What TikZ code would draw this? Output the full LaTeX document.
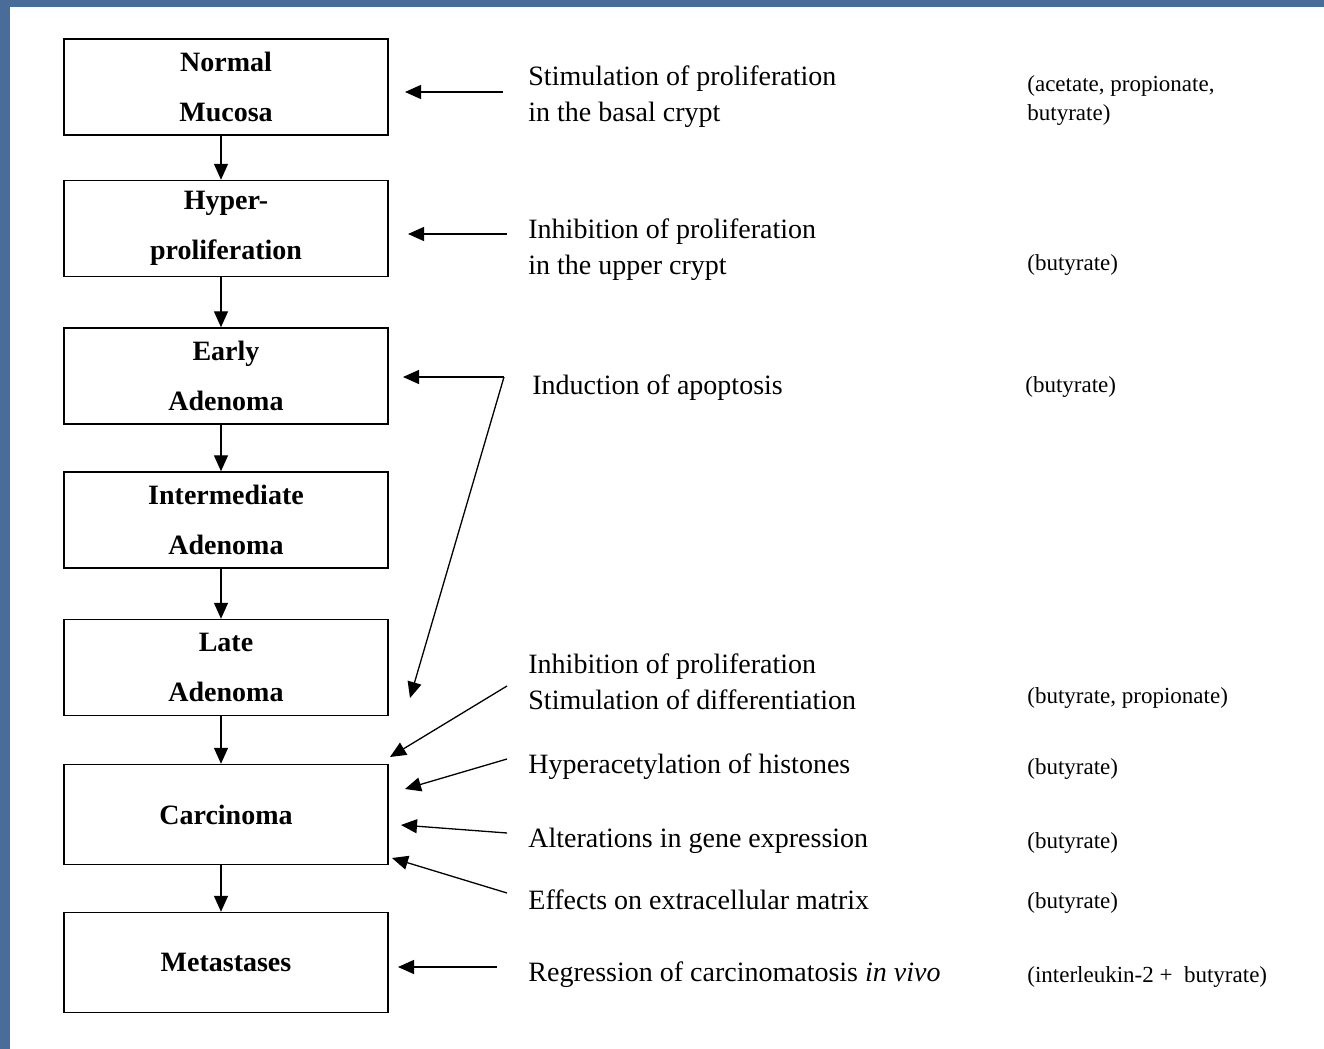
\documentclass[tikz,border=0pt]{standalone}
\usepackage{fontspec}
\setmainfont{Liberation Serif}
\usetikzlibrary{arrows.meta}
\definecolor{slideblue}{RGB}{74,108,152}

\begin{document}
\begin{tikzpicture}[x=0.5pt, y=-0.5pt,
  stage/.style={draw, line width=0.7pt, minimum width=162pt,
    minimum height=48pt, align=center,
    font=\bfseries\fontsize{14}{25}\selectfont},
  effect/.style={anchor=west, align=left,
    font=\fontsize{14}{18}\selectfont, inner sep=0pt},
  agent/.style={anchor=west, align=left,
    font=\fontsize{11.5}{14.5}\selectfont, inner sep=0pt},
  link/.style={-{Triangle[length=8pt,width=7pt]}, line width=0.65pt}]

  \useasboundingbox (0,0) rectangle (1324,1049);

  % Slide background
  \fill[slideblue] (0,0) rectangle (1324,1049);
  \fill[white] (10,7) rectangle (1324,1049);

  % Stages of carcinogenesis
  \node[stage] (normal) at (226,87) {Normal\\Mucosa};
  \node[stage] (hyper) at (226,228.5) {Hyper-\\proliferation};
  \node[stage] (early) at (226,376) {Early\\Adenoma};
  \node[stage] (inter) at (226,520) {Intermediate\\Adenoma};
  \node[stage] (late) at (226,667.5) {Late\\Adenoma};
  \node[stage, minimum height=50pt] (carc) at (226,814.5) {Carcinoma};
  \node[stage, minimum height=50pt] (meta) at (226,962.5) {Metastases};

  % Progression
  \foreach \a/\b in {normal/hyper, hyper/early, early/inter,
                     inter/late, late/carc, carc/meta}
    \draw[link] ([xshift=-2.5pt]\a.south) -- ([xshift=-2.5pt]\b.north);

  % Effects of short chain fatty acids
  \node[effect] (basal) at (528,97)
    {Stimulation of proliferation\\in the basal crypt};
  \node[effect] (upper) at (528,250)
    {Inhibition of proliferation\\in the upper crypt};
  \node[effect] (apop) at (532,388) {Induction of apoptosis};
  \node[effect] (diff) at (528,682)
    {Inhibition of proliferation\\Stimulation of differentiation};
  \node[effect] (histo) at (528,767) {Hyperacetylation of histones};
  \node[effect] (gene) at (528,841) {Alterations in gene expression};
  \node[effect] (matrix) at (528,900) {Effects on extracellular matrix};
  \node[effect] (regr) at (528,975)
    {Regression of carcinomatosis \textit{in vivo}};

  % Acids involved
  \node[agent] (ag1) at (1027,101) {(acetate, propionate,\\butyrate)};
  \node[agent] (ag2) at (1027,265) {(butyrate)};
  \node[agent] (ag3) at (1025,387) {(butyrate)};
  \node[agent] (ag4) at (1027,698) {(butyrate, propionate)};
  \node[agent] (ag5) at (1027,769) {(butyrate)};
  \node[agent] (ag6) at (1027,843) {(butyrate)};
  \node[agent] (ag7) at (1027,903) {(butyrate)};
  \node[agent] (ag8) at (1027,977) {(interleukin-2 +\ \ butyrate)};

  % Arrow ends
  \coordinate (s1) at (503,92);   \coordinate (e1) at (405,92);
  \coordinate (s2) at (507,234);  \coordinate (e2) at (408,234);
  \coordinate (s3) at (504,377);  \coordinate (e3) at (403,377);
  \coordinate (e3b) at (410,698);
  \coordinate (s4) at (507,686);  \coordinate (e4) at (390,757);
  \coordinate (s5) at (507,759);  \coordinate (e5) at (405,789);
  \coordinate (s6) at (507,833);  \coordinate (e6) at (401,825);
  \coordinate (s7) at (507,893);  \coordinate (e7) at (392,858);
  \coordinate (s8) at (497,967);  \coordinate (e8) at (398,967);

  \draw[link] (s1) -- (e1);
  \draw[link] (s2) -- (e2);
  \draw[link] (s3) -- (e3);
  \draw[link] (s3) -- (e3b);
  \draw[link] (s4) -- (e4);
  \draw[link] (s5) -- (e5);
  \draw[link] (s6) -- (e6);
  \draw[link] (s7) -- (e7);
  \draw[link] (s8) -- (e8);

\end{tikzpicture}
\end{document}
